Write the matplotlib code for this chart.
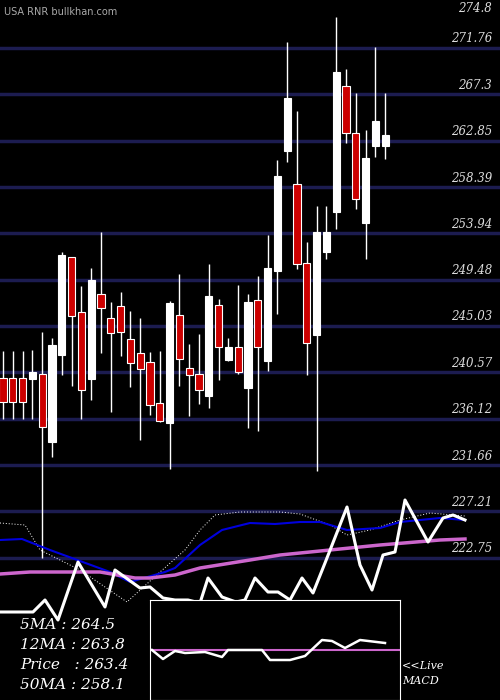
import numpy as np
import matplotlib.pyplot as plt
from matplotlib.patches import Rectangle

# daily candles (open, high, low, close)
opens = [240.0, 240.0, 240.0, 239.9, 240.4, 233.9, 242.2, 251.7, 246.4, 239.9,
         248.1, 245.8, 247.0, 243.8, 242.4, 241.6, 237.6, 235.7, 246.1, 241.0,
         240.4, 238.3, 247.0, 241.8, 243.0, 239.1, 247.5, 241.7, 250.3, 261.9,
         258.7, 251.1, 244.2, 252.1, 256.0, 268.1, 263.6, 254.9, 262.3, 262.3]
highs = [242.6, 242.6, 242.6, 242.7, 244.5, 243.9, 252.1, 251.7, 248.9, 250.6,
         254.1, 247.3, 248.3, 246.5, 245.8, 242.5, 242.6, 247.4, 250.0, 243.3,
         244.3, 251.0, 247.6, 243.9, 249.0, 248.1, 249.8, 253.8, 261.0, 272.3,
         265.7, 253.1, 256.6, 256.6, 274.7, 269.7, 267.4, 263.9, 271.9, 267.4]
lows = [236.1, 236.1, 236.1, 236.1, 222.7, 232.4, 240.3, 239.3, 236.1, 237.9,
        242.4, 236.8, 242.1, 239.2, 234.1, 236.5, 235.8, 231.3, 239.3, 236.4,
        237.5, 237.1, 239.8, 241.7, 240.4, 235.2, 234.9, 240.7, 246.2, 260.8,
        250.5, 240.3, 231.1, 251.5, 254.4, 262.6, 256.3, 251.5, 261.3, 261.1]
closes = [237.7, 237.7, 237.7, 240.6, 235.3, 243.2, 251.9, 246.0, 238.9, 249.5,
          246.8, 244.4, 244.5, 241.5, 240.9, 237.4, 235.9, 247.2, 241.9, 240.3,
          238.9, 247.9, 243.0, 243.0, 240.6, 247.3, 243.0, 250.6, 259.5, 267.0,
          251.0, 243.4, 254.1, 254.1, 269.5, 263.6, 257.2, 261.2, 264.7, 263.4]

levels = [271.76, 267.3, 262.85, 258.39, 253.94, 249.48, 245.03, 240.57,
          236.12, 231.66, 227.21, 222.75]
top_label = 274.8

# lower indicator lines (screen-like units, 0 top .. 700 bottom)
w_x = [0, 33, 45, 58, 78, 105, 115, 140, 150, 163, 175, 188, 200, 208, 222, 236, 245,
       255, 268, 278, 290, 302, 313, 325, 347, 360, 372, 383, 395, 405, 428, 443, 453, 465]
w_y = [612, 612, 600, 620, 562, 607, 570, 588, 587, 598, 600, 600, 603, 578, 597, 602, 600,
       578, 592, 592, 600, 578, 593, 563, 507, 565, 590, 555, 552, 500, 542, 518, 515, 520]
d_x = [0, 25, 40, 80, 127, 160, 185, 200, 215, 240, 280, 300, 330, 347, 370, 400, 430, 465]
d_y = [523, 525, 550, 570, 602, 572, 550, 530, 515, 512, 512, 514, 525, 535, 530, 520, 513, 516]
b_x = [0, 22, 50, 80, 110, 130, 165, 175, 200, 222, 250, 275, 300, 320, 347, 380, 400, 440, 465]
b_y = [540, 539, 550, 561, 572, 582, 572, 568, 545, 530, 523, 524, 522, 522, 530, 528, 522, 518, 520]
m_x = [0, 30, 100, 135, 150, 175, 200, 250, 280, 330, 380, 440, 465]
m_y = [574, 572, 572, 578, 578, 575, 568, 560, 555, 550, 545, 540, 539]
macd_x = [152, 163, 175, 185, 205, 222, 228, 262, 270, 290, 305, 322, 332, 345, 360, 385]
macd_y = [650, 659, 651, 653, 652, 657, 650, 650, 660, 660, 656, 640, 641, 648, 640, 643]

fig = plt.figure(figsize=(5, 7), dpi=100, facecolor='black')
ax = fig.add_axes([0, 0, 1, 1], facecolor='black')
ax.set_xlim(-3 / 9.8, 497 / 9.8)
ax.set_ylim(276.375 - 700 / 10.4, 276.375)
ax.axis('off')

for lv in levels:
    ax.axhline(lv, color='#1c1c50', lw=2.5, zorder=1)

for i in range(len(opens)):
    o, h, l, c = opens[i], highs[i], lows[i], closes[i]
    ax.vlines(i, l, h, color='white', lw=1, zorder=2)
    col = 'white' if c >= o else '#cc0000'
    ax.add_patch(Rectangle((i - 0.36, min(o, c)), 0.72, max(abs(c - o), 0.2),
                           facecolor=col, edgecolor='white', lw=0.8, zorder=3))

ov = fig.add_axes([0, 0, 1, 1], facecolor='none')
ov.set_xlim(0, 500)
ov.set_ylim(700, 0)
ov.axis('off')
ov.plot(d_x, d_y, color='white', lw=0.7, ls=(0, (1, 2)))
ov.plot(b_x, b_y, color='#0000dd', lw=1.5)
ov.plot(m_x, m_y, color='#cc66cc', lw=2.5)
ov.plot(w_x, w_y, color='white', lw=2.2)

ov.text(4, 12, 'USA RNR bullkhan.com', color='#aaaaaa', fontsize=7, va='center')
ov.text(492, 8, f'{top_label}', color='#dddddd', fontsize=8.5, ha='right', va='center',
        family='DejaVu Serif', style='italic')
for lv in levels:
    yp = (276.375 - lv) * 10.4
    ov.text(492, yp - 9, f'{lv:g}', color='#dddddd', fontsize=8.5, ha='right', va='center',
            family='DejaVu Serif', style='italic')

legend = ['5MA : 264.5', '12MA : 263.8', 'Price   : 263.4', '50MA : 258.1']
for k, t in enumerate(legend):
    ov.text(20, 625 + k * 20, t, color='white', fontsize=11, va='center',
            family='DejaVu Serif', style='italic')

mx = fig.add_axes([150 / 500, 0, 250 / 500, 100 / 700], facecolor='black')
mx.set_xlim(150, 400)
mx.set_ylim(700, 600)
mx.set_xticks([])
mx.set_yticks([])
for s in mx.spines.values():
    s.set_color('white')
mx.axhline(650, color='#cc66cc', lw=1.5)
mx.plot(macd_x, macd_y, color='white', lw=1.8)

ov.text(402, 666, '<<Live', color='white', fontsize=8, va='center',
        family='DejaVu Serif', style='italic')
ov.text(402, 681, 'MACD', color='white', fontsize=8, va='center',
        family='DejaVu Serif', style='italic')

fig.savefig('out.png', dpi=100, facecolor='black')
